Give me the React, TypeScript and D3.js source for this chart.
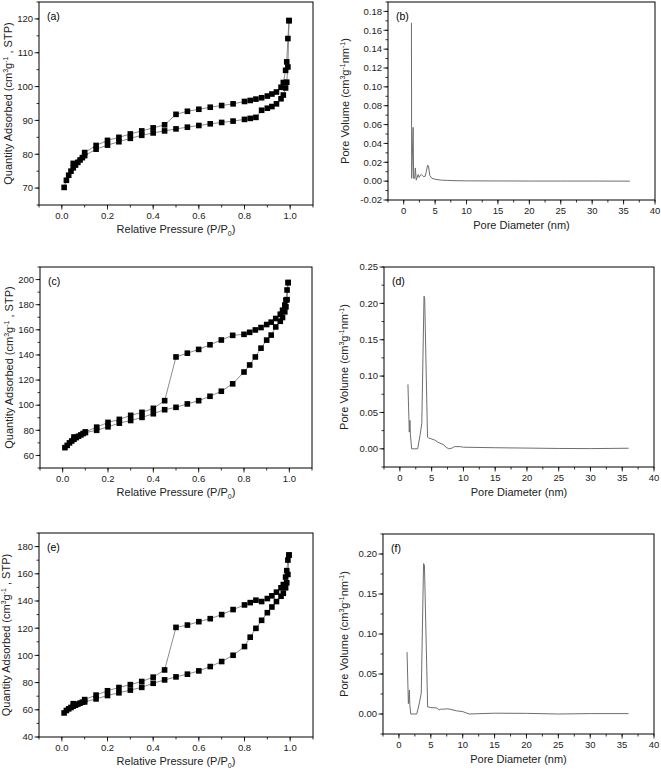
import React from "react";
import * as d3 from "d3";

// ---------- data ----------
const ADS_P = [0.01, 0.02, 0.03, 0.04, 0.05, 0.06, 0.07, 0.08, 0.09, 0.1, 0.15, 0.2, 0.25, 0.3, 0.35, 0.4, 0.45, 0.5, 0.55, 0.6, 0.65, 0.7, 0.75, 0.8, 0.825, 0.85, 0.875, 0.9, 0.92, 0.94, 0.96, 0.97, 0.98, 0.985, 0.99, 0.995];
const DES_P = [0.995, 0.99, 0.985, 0.98, 0.97, 0.96, 0.94, 0.92, 0.9, 0.875, 0.85, 0.825, 0.8, 0.75, 0.7, 0.65, 0.6, 0.55, 0.5, 0.45, 0.4, 0.35, 0.3, 0.25, 0.2, 0.15, 0.1, 0.05];

const A_ADS = [70.2, 72.3, 73.8, 75.0, 76.0, 76.8, 77.6, 78.3, 79.0, 79.6, 81.5, 82.7, 83.7, 84.7, 85.6, 86.3, 86.9, 87.5, 88.0, 88.5, 89.0, 89.4, 89.8, 90.3, 90.6, 90.9, 93.0, 93.6, 94.1, 94.9, 96.4, 97.5, 99.6, 101.3, 105.8, 119.5];
const A_DES = [119.5, 114.2, 107.3, 104.8, 101.2, 99.8, 98.4, 97.8, 97.2, 96.7, 96.3, 95.9, 95.6, 94.9, 94.4, 93.9, 93.3, 92.7, 91.8, 88.7, 87.8, 86.9, 86.0, 85.0, 84.1, 82.6, 80.5, 77.3];

const C_ADS = [66.2, 68, 70, 71.5, 72.9, 74.2, 75.3, 76.3, 77.4, 78.2, 80, 82.8, 85.7, 87.8, 90.3, 93.2, 96.4, 98.3, 101, 103.6, 107.1, 111.1, 117, 126.4, 132, 138.4, 145.4, 151.8, 155.8, 162.3, 166.8, 169.8, 174.3, 178.3, 184, 197.6];
const C_DES = [197.6, 191.7, 183.7, 179.7, 175.6, 172.4, 169, 166.1, 164.2, 161.8, 159.9, 158, 156.4, 155.6, 151.9, 148.1, 144.4, 141.4, 138.4, 103.6, 97.5, 94.3, 91.9, 88.7, 86.3, 82.5, 78.7, 74.7];

const E_ADS = [57.7, 59.5, 60.7, 61.7, 62.7, 63.4, 64.2, 64.9, 65.6, 65.8, 68.0, 70.5, 72.5, 74.5, 76.5, 79.5, 82.0, 84.2, 86.2, 88.6, 91.8, 95.5, 100.1, 106.5, 113.4, 119.9, 125.8, 131.4, 135.6, 139.6, 143.5, 145.7, 149.7, 153.4, 159.5, 173.8];
const E_DES = [173.8, 170.1, 162.3, 157.6, 152.1, 149.7, 146.5, 143.8, 141.8, 139.6, 140.6, 138.8, 137.1, 133.7, 130, 127, 124.8, 122.3, 120.6, 89.3, 84.0, 80.8, 78.5, 76.4, 74.0, 70.8, 67.5, 64.5];

const B_D = [1.23, 1.27, 1.5, 1.58, 1.75, 1.85, 2.0, 2.15, 2.3, 2.45, 2.6, 2.8, 3.1, 3.4, 3.6, 3.8, 3.95, 4.15, 4.5, 5, 6, 7, 8, 10, 15, 20, 25, 30, 36];
const B_V = [0.168, 0.003, 0.057, 0.003, 0.003, 0.014, 0.001, 0.004, 0.007, 0.004, 0.006, 0.007, 0.005, 0.005, 0.010, 0.017, 0.016, 0.006, 0.003, 0.002, 0.001, 0.0008, 0.0005, 0.0003, 0.0002, 0.0001, 0.0001, 0.0001, 0.0];

const D_D = [1.27, 1.48, 1.59, 1.65, 1.85, 2.8, 3.2, 3.45, 3.8, 3.9, 4.35, 4.5, 5, 5.5, 6, 6.8, 7.3, 7.7, 8.2, 8.6, 9.5, 10, 15, 20, 25, 30, 36];
const D_V = [0.0886, 0.023, 0.039, 0.02, 0.0, 0.0, 0.02, 0.035, 0.21, 0.208, 0.016, 0.015, 0.0135, 0.012, 0.009, 0.006, 0.002, 0.0, 0.001, 0.003, 0.003, 0.0022, 0.0015, 0.001, 0.0005, 0.0003, 0.0008];

const F_D = [1.27, 1.48, 1.64, 1.7, 1.85, 2.8, 3.17, 3.5, 3.86, 4.0, 4.5, 5, 6, 6.3, 6.5, 7, 7.5, 8, 9, 10, 11, 15, 20, 25, 30, 36];
const F_V = [0.0774, 0.013, 0.030, 0.012, 0.0, 0.0, 0.0125, 0.026, 0.188, 0.186, 0.009, 0.008, 0.0075, 0.005, 0.006, 0.006, 0.0065, 0.006, 0.004, 0.003, 0.0, 0.001, 0.0008, 0.0, 0.0005, 0.0005];

const P_TICKS = [0, 0.2, 0.4, 0.6, 0.8, 1.0];
const D_TICKS = [0, 5, 10, 15, 20, 25, 30, 35, 40];

const FONT = "Liberation Sans, Arial, Helvetica, sans-serif";
const LINE_GRAY = "#6e6e6e";

type Frame = { l: number; r: number; t: number; b: number };

function range(a: number, b: number, s: number) {
  const out: number[] = [];
  for (let i = 0; ; i++) {
    const v = a + i * s;
    if (v > b + 1e-9) break;
    out.push(+v.toFixed(6));
  }
  return out;
}

function Axes({ f, x, y, xTicks, xMinor, yTicks, yMinor, xFmt, yFmt }: any) {
  return (
    <g>
      <rect x={f.l} y={f.t} width={f.r - f.l} height={f.b - f.t} fill="none" stroke="#000" strokeWidth={1} />
      {xMinor.map((v: number, i: number) => (
        <line key={"xm" + i} x1={x(v)} x2={x(v)} y1={f.b} y2={f.b + 2.5} stroke="#000" strokeWidth={0.8} />
      ))}
      {xTicks.map((v: number, i: number) => (
        <g key={"x" + i}>
          <line x1={x(v)} x2={x(v)} y1={f.b} y2={f.b + 4.5} stroke="#000" strokeWidth={0.8} />
          <text x={x(v)} y={f.b + 14} fontSize={9.5} textAnchor="middle" fontFamily={FONT} fill="#222">
            {xFmt(v)}
          </text>
        </g>
      ))}
      {yMinor.map((v: number, i: number) => (
        <line key={"ym" + i} x1={f.l - 2.5} x2={f.l} y1={y(v)} y2={y(v)} stroke="#000" strokeWidth={0.8} />
      ))}
      {yTicks.map((v: number, i: number) => (
        <g key={"y" + i}>
          <line x1={f.l - 4.5} x2={f.l} y1={y(v)} y2={y(v)} stroke="#000" strokeWidth={0.8} />
          <text x={f.l - 6} y={y(v) + 3.3} fontSize={9.5} textAnchor="end" fontFamily={FONT} fill="#222">
            {yFmt(v)}
          </text>
        </g>
      ))}
    </g>
  );
}

function Isotherm({ f, yDom, yStep, yMinorStep, ads, des, tag, ylx }: any) {
  const x = d3.scaleLinear().domain([-0.1, 1.1]).range([f.l, f.r]);
  const y = d3.scaleLinear().domain(yDom).range([f.b, f.t]);
  const adsPts = ADS_P.map((p, i) => [p, ads[i]] as [number, number]);
  const desPts = DES_P.map((p, i) => [p, des[i]] as [number, number]);
  const line = d3.line<[number, number]>().x((d) => x(d[0])).y((d) => y(d[1]));
  const yTicks = range(Math.ceil(yDom[0] / yStep) * yStep, yDom[1], yStep);
  const yMinor = range(yDom[0], yDom[1], yMinorStep);
  const xMinor = range(-0.1, 1.1, 0.1);
  const s = 5.6;
  const cy = (f.t + f.b) / 2;
  const cx = (f.l + f.r) / 2;
  return (
    <g>
      <Axes f={f} x={x} y={y} xTicks={P_TICKS} xMinor={xMinor} yTicks={yTicks} yMinor={yMinor}
        xFmt={(v: number) => v.toFixed(1)} yFmt={(v: number) => String(v)} />
      <path d={line(adsPts) || ""} fill="none" stroke={LINE_GRAY} strokeWidth={0.8} />
      <path d={line(desPts) || ""} fill="none" stroke={LINE_GRAY} strokeWidth={0.8} />
      {adsPts.concat(desPts).map((d, i) => (
        <rect key={i} x={x(d[0]) - s / 2} y={y(d[1]) - s / 2} width={s} height={s} fill="#000" />
      ))}
      <text x={f.l + 8} y={f.t + 18} fontSize={10.5} fontFamily={FONT}>{tag}</text>
      <text x={cx} y={f.b + 28} fontSize={11} textAnchor="middle" fontFamily={FONT} fill="#222">
        Relative Pressure (P/P<tspan fontSize={7} dy={3}>0</tspan><tspan dy={-3}>)</tspan>
      </text>
      <text transform={`translate(${ylx},${cy}) rotate(-90)`} fontSize={11} textAnchor="middle" fontFamily={FONT} fill="#222">
        Quantity Adsorbed (cm<tspan fontSize={7} dy={-4}>3</tspan><tspan dy={4}>g</tspan>
        <tspan fontSize={7} dy={-4}>-1</tspan><tspan dy={4}> ,   STP)</tspan>
      </text>
    </g>
  );
}

function PSD({ f, yDom, yTicks, yMinorStep, dx, dv, tag, ylx }: any) {
  const x = d3.scaleLinear().domain([-2.5, 40]).range([f.l, f.r]);
  const y = d3.scaleLinear().domain(yDom).range([f.b, f.t]);
  const pts = dx.map((v: number, i: number) => [v, dv[i]] as [number, number]);
  const line = d3.line<[number, number]>().x((d) => x(d[0])).y((d) => y(d[1]));
  const yMinor = range(yDom[0], yDom[1], yMinorStep);
  const xMinor = range(-2.5, 40, 2.5);
  const cy = (f.t + f.b) / 2;
  const cx = (f.l + f.r) / 2;
  return (
    <g>
      <Axes f={f} x={x} y={y} xTicks={D_TICKS} xMinor={xMinor} yTicks={yTicks} yMinor={yMinor}
        xFmt={(v: number) => String(v)} yFmt={(v: number) => v.toFixed(2)} />
      <path d={line(pts) || ""} fill="none" stroke={LINE_GRAY} strokeWidth={1} />
      <text x={f.l + 8} y={f.t + 18} fontSize={10.5} fontFamily={FONT}>{tag}</text>
      <text x={cx} y={f.b + 29} fontSize={11} textAnchor="middle" fontFamily={FONT} fill="#222">
        Pore Diameter (nm)
      </text>
      <text transform={`translate(${ylx},${cy}) rotate(-90)`} fontSize={11} textAnchor="middle" fontFamily={FONT} fill="#222">
        Pore Volume (cm<tspan fontSize={7} dy={-4}>3</tspan><tspan dy={4}>g</tspan>
        <tspan fontSize={7} dy={-4}>-1</tspan><tspan dy={4}>nm</tspan>
        <tspan fontSize={7} dy={-4}>-1</tspan><tspan dy={4}>)</tspan>
      </text>
    </g>
  );
}

export default function App() {
  return (
    <svg width={661} height={771} style={{ position: "absolute", left: 0, top: 0, background: "#fff" }}>
      <rect width={661} height={771} fill="#fff" />
      <Isotherm f={{ l: 39, r: 313, t: 2, b: 205 }} yDom={[65, 125]} yStep={10} yMinorStep={5}
        ads={A_ADS} des={A_DES} tag="(a)" ylx={12} />
      <PSD f={{ l: 388, r: 655, t: 2, b: 200 }} yDom={[-0.02, 0.19]} yTicks={range(-0.02, 0.18, 0.02)}
        yMinorStep={0.01} dx={B_D} dv={B_V} tag="(b)" ylx={349} />
      <Isotherm f={{ l: 40, r: 312, t: 267, b: 468 }} yDom={[50, 210]} yStep={20} yMinorStep={10}
        ads={C_ADS} des={C_DES} tag="(c)" ylx={13} />
      <PSD f={{ l: 384, r: 654, t: 267, b: 467 }} yDom={[-0.025, 0.25]} yTicks={range(0, 0.25, 0.05)}
        yMinorStep={0.025} dx={D_D} dv={D_V} tag="(d)" ylx={348} />
      <Isotherm f={{ l: 39, r: 313, t: 533, b: 737 }} yDom={[40, 190]} yStep={20} yMinorStep={10}
        ads={E_ADS} des={E_DES} tag="(e)" ylx={10} />
      <PSD f={{ l: 383, r: 654, t: 534, b: 734 }} yDom={[-0.025, 0.225]} yTicks={range(0, 0.2, 0.05)}
        yMinorStep={0.025} dx={F_D} dv={F_V} tag="(f)" ylx={348} />
    </svg>
  );
}
